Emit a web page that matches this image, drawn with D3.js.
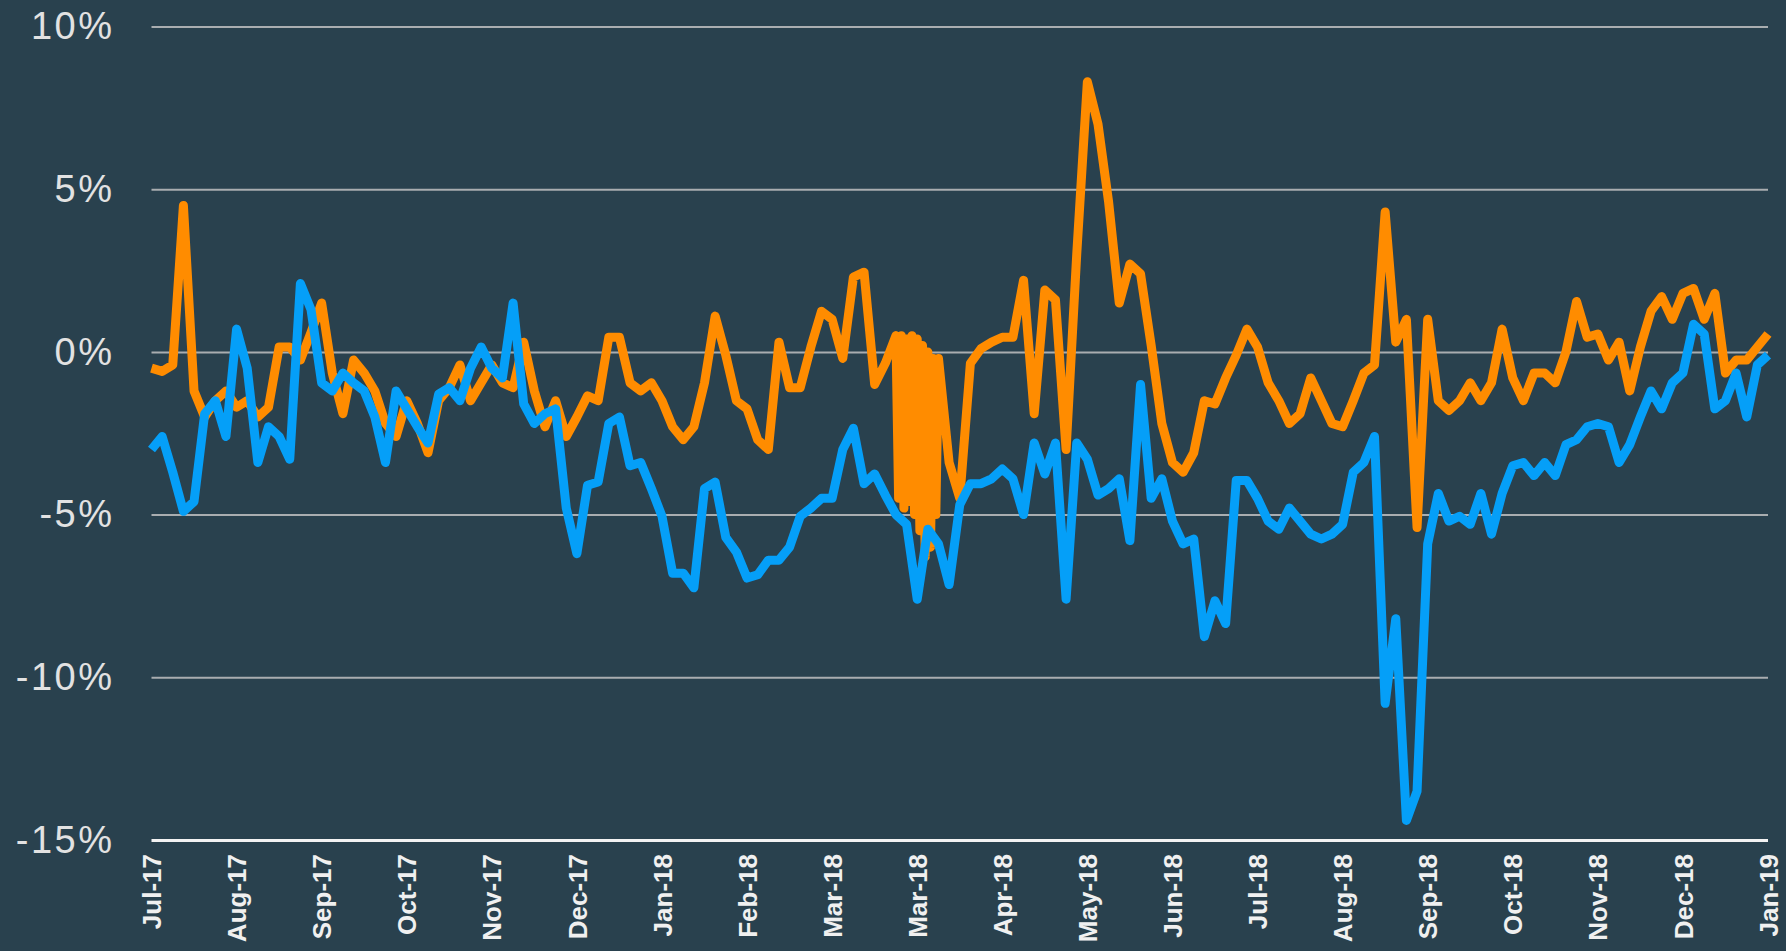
<!DOCTYPE html>
<html>
<head>
<meta charset="utf-8">
<script src="https://cdn.jsdelivr.net/npm/d3@7"></script>
<style>
  html, body { margin: 0; padding: 0; background: #29414e; }
  svg { display: block; }
  .ejeY text { font-family: 'Liberation Sans', Arial, sans-serif; font-size: 38px; letter-spacing: 2.5px; fill: #e2e2e2; }
  .ejeX text { font-family: 'Liberation Sans', Arial, sans-serif; font-size: 26px; font-weight: bold; fill: #f0f0f0; }
</style>
</head>
<body>
<div id="graf"></div>
<script>
// etiquetas del eje x (tal cual el original, Mar-18 sale dos veces)
const meses = ['Jul-17', 'Aug-17', 'Sep-17', 'Oct-17', 'Nov-17', 'Dec-17', 'Jan-18', 'Feb-18', 'Mar-18', 'Mar-18',
  'Apr-18', 'May-18', 'Jun-18', 'Jul-18', 'Aug-18', 'Sep-18', 'Oct-18', 'Nov-18', 'Dec-18', 'Jan-19']
const yTicks = [-15, -10, -5, 0, 5, 10]
const porMes = 8 // valores por intervalo de etiqueta

// serie naranja (%)
const naranja = [
  -0.5, -0.6, -0.4, 4.5, -1.2, -2.0, -1.5, -1.2, -1.7, -1.5,
  -2.0, -1.7, 0.15, 0.15, -0.25, 0.6, 1.5, -0.65, -1.9, -0.25,
  -0.65, -1.2, -2.2, -2.6, -1.5, -2.2, -3.1, -1.5, -1.1, -0.4,
  -1.5, -0.95, -0.4, -0.95, -1.1, 0.3, -1.2, -2.3, -1.5, -2.6,
  -2.0, -1.35, -1.5, 0.45, 0.45, -0.95, -1.2, -0.95, -1.5, -2.3,
  -2.7, -2.3, -0.95, 1.1, -0.1, -1.5, -1.75, -2.7, -3.0, 0.3,
  -1.1, -1.1, 0.15, 1.25, 1.0, -0.2, 2.3, 2.45, -1.0, -0.35,
  0.5, -4.6, 0.4, -6.3, -0.2, -3.4, -4.5, -0.35, 0.1, 0.3,
  0.45, 0.45, 2.2, -1.9, 1.9, 1.6, -3.0, 3.0, 8.3, 7.0,
  4.6, 1.5, 2.7, 2.4, 0.2, -2.2, -3.4, -3.7, -3.1, -1.5,
  -1.6, -0.8, -0.1, 0.7, 0.15, -0.95, -1.5, -2.2, -1.9, -0.8,
  -1.5, -2.2, -2.3, -1.5, -0.65, -0.4, 4.3, 0.3, 1.0, -5.4,
  1.0, -1.5, -1.8, -1.5, -0.95, -1.5, -0.95, 0.7, -0.8, -1.5,
  -0.65, -0.65, -0.95, 0.0, 1.55, 0.45, 0.55, -0.25, 0.3, -1.2,
  0.15, 1.25, 1.7, 1.0, 1.8, 1.95, 1.0, 1.8, -0.65, -0.25,
  -0.25, 0.15, 0.55
]

// tramo de marzo-18 donde la naranja oscila dia a dia (paso mas fino)
const marzoInicio = 8.75
const marzoPaso = 1 / 32
const naranjaMarzo = [
  0.5, -4.5, 0.5, -4.8, 0.4, -4.6, 0.5, -5.0, 0.4,
  -5.5, 0.2, -6.3, 0.0, -6.0, -0.2, -5.0, -0.2
]

// serie azul (%)
const azul = [
  -3.0, -2.6, -3.7, -4.9, -4.6, -1.9, -1.5, -2.6, 0.7, -0.5,
  -3.4, -2.3, -2.6, -3.3, 2.1, 1.3, -0.95, -1.2, -0.65, -0.95,
  -1.2, -2.0, -3.4, -1.2, -1.75, -2.3, -2.8, -1.3, -1.1, -1.5,
  -0.5, 0.15, -0.5, -0.8, 1.5, -1.6, -2.2, -1.9, -1.75, -4.8,
  -6.2, -4.1, -4.0, -2.2, -2.0, -3.5, -3.4, -4.2, -5.05, -6.8,
  -6.8, -7.25, -4.2, -4.0, -5.7, -6.15, -6.95, -6.85, -6.4, -6.4,
  -6.0, -5.05, -4.8, -4.5, -4.5, -3.0, -2.35, -4.05, -3.75, -4.4,
  -5.0, -5.3, -7.6, -5.45, -5.9, -7.15, -4.7, -4.05, -4.05, -3.9,
  -3.6, -3.9, -5.0, -2.8, -3.75, -2.8, -7.6, -2.8, -3.3, -4.4,
  -4.2, -3.9, -5.8, -1.0, -4.5, -3.9, -5.2, -5.9, -5.75, -8.75,
  -7.65, -8.35, -3.95, -3.95, -4.5, -5.2, -5.45, -4.8, -5.2, -5.6,
  -5.75, -5.6, -5.3, -3.7, -3.4, -2.6, -10.8, -8.2, -14.4, -13.5,
  -5.9, -4.35, -5.2, -5.05, -5.3, -4.35, -5.6, -4.35, -3.5, -3.4,
  -3.8, -3.4, -3.8, -2.85, -2.7, -2.3, -2.2, -2.3, -3.4, -2.85,
  -2.0, -1.2, -1.75, -0.95, -0.65, 0.85, 0.55, -1.75, -1.5, -0.65,
  -2.0, -0.4, -0.1
]

const anchoTotal = 1786
const altoTotal = 951

const margin = {
  top: 26.5,
  bottom: 111,
  left: 151.5,
  right: 18,
}

const ancho = anchoTotal - margin.left - margin.right
const alto = altoTotal - margin.top - margin.bottom

const svg = d3.select('#graf')
  .append('svg')
  .attr('width', anchoTotal)
  .attr('height', altoTotal)

svg.append('rect')
  .attr('width', anchoTotal)
  .attr('height', altoTotal)
  .attr('fill', '#29414e')

const g = svg
  .append('g')
  .attr('transform', `translate(${margin.left}, ${margin.top})`)

const x = d3.scaleLinear()
  .domain([0, meses.length - 1])
  .range([0, ancho])

const y = d3.scaleLinear()
  .domain([-15, 10])
  .range([alto, 0])

// eje y con lineas de referencia
const yAxisGroup = g.append('g')
  .attr('class', 'ejeY')
  .call(
    d3.axisLeft(y)
      .tickValues(yTicks)
      .tickSize(-ancho)
      .tickPadding(37)
      .tickFormat(d => `${d}%`)
  )
yAxisGroup.select('.domain').remove()
yAxisGroup.selectAll('line')
  .attr('stroke', d => d === -15 ? '#f2f2f2' : '#a9adb0')
  .attr('stroke-width', d => d === -15 ? 3 : 2)

// eje x
const xAxisGroup = g.append('g')
  .attr('class', 'ejeX')
  .attr('transform', `translate(0, ${alto})`)
  .call(
    d3.axisBottom(x)
      .tickValues(d3.range(meses.length))
      .tickSize(0)
      .tickFormat(i => meses[i])
  )
xAxisGroup.select('.domain').remove()
xAxisGroup.selectAll('text')
  .attr('text-anchor', 'end')
  .attr('transform', 'rotate(-90)')
  .attr('x', -14)
  .attr('y', 0)
  .attr('dy', '0.35em')

// puntos [posicion, valor]
const marzoFin = marzoInicio + (naranjaMarzo.length - 1) * marzoPaso
const puntosNaranja = naranja
  .map((v, i) => [i / porMes, v])
  .filter(d => d[0] < marzoInicio || d[0] > marzoFin)
  .concat(naranjaMarzo.map((v, j) => [marzoInicio + j * marzoPaso, v]))
  .sort((a, b) => a[0] - b[0])
const puntosAzul = azul.map((v, i) => [i / porMes, v])

const linea = d3.line()
  .x(d => x(d[0]))
  .y(d => y(d[1]))

g.append('path')
  .datum(puntosNaranja)
  .attr('fill', 'none')
  .attr('stroke', '#ff8c00')
  .attr('stroke-width', 9)
  .attr('stroke-linejoin', 'round')
  .attr('d', linea)

g.append('path')
  .datum(puntosAzul)
  .attr('fill', 'none')
  .attr('stroke', '#059ff8')
  .attr('stroke-width', 9)
  .attr('stroke-linejoin', 'round')
  .attr('d', linea)
</script>
</body>
</html>
